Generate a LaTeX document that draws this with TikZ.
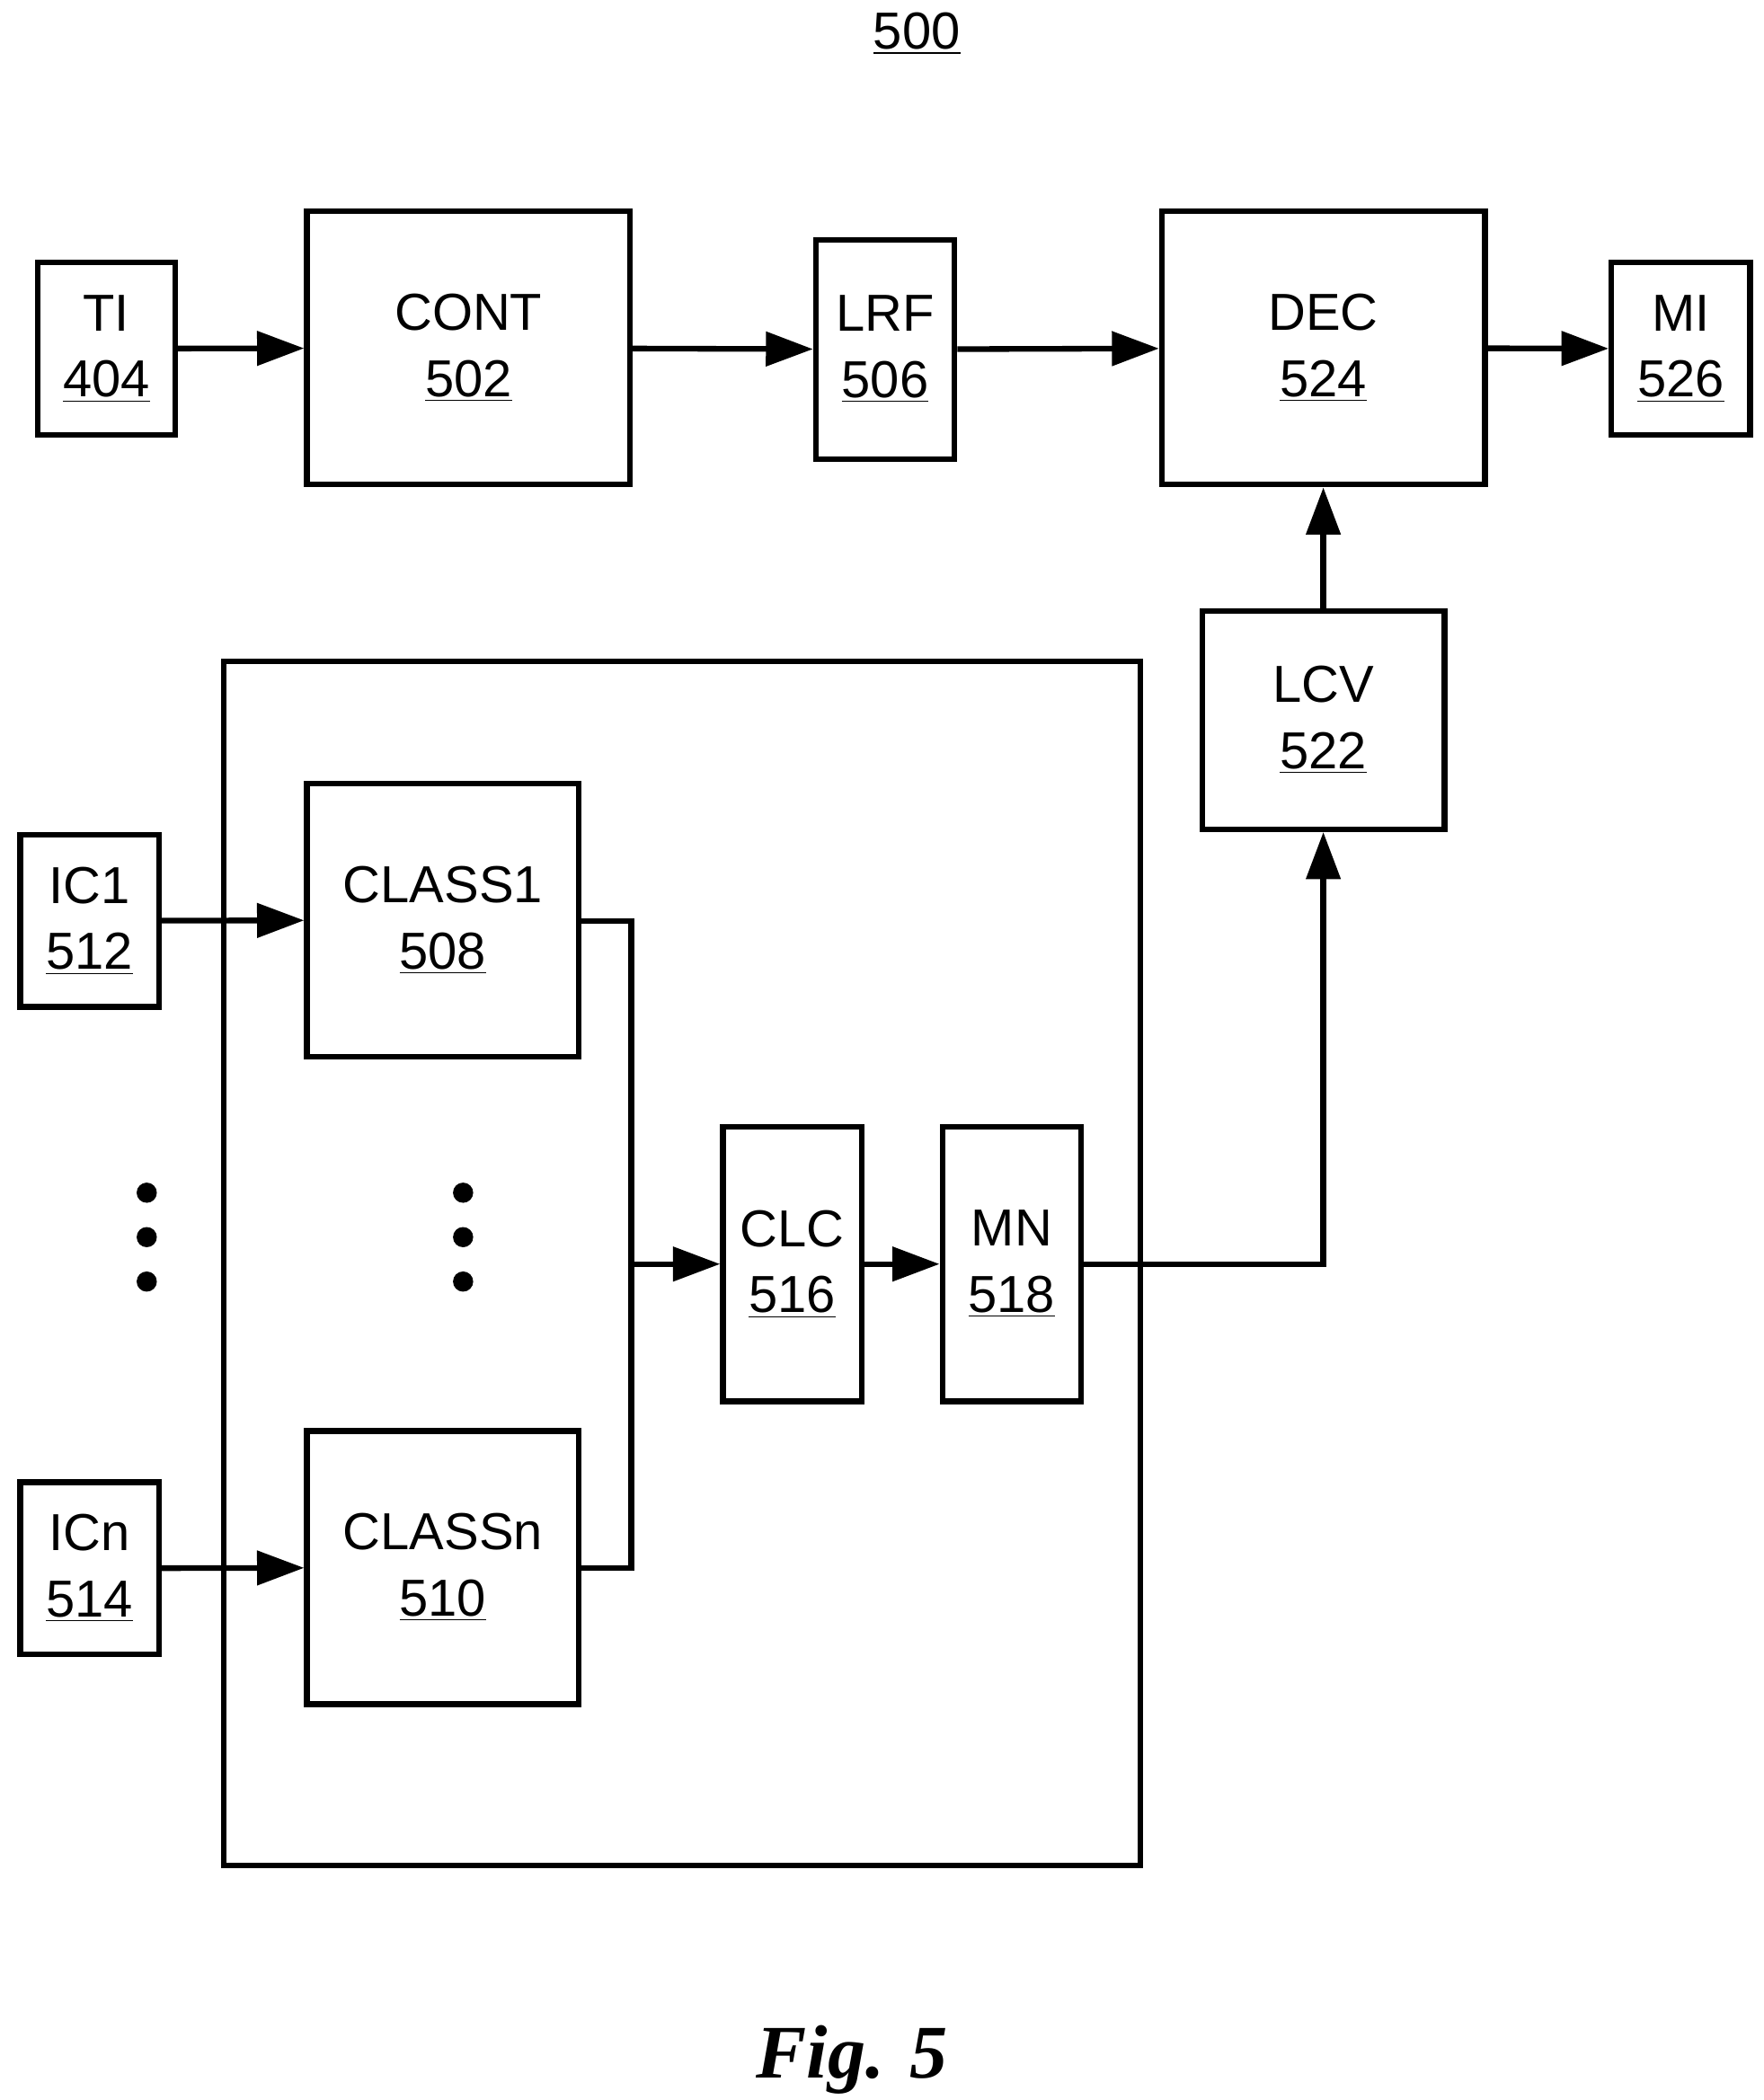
\documentclass[tikz,border=0pt]{standalone}
\usepackage{fontspec}
\setmainfont{Liberation Sans}
\newfontfamily\figfont{Liberation Serif}
\usetikzlibrary{arrows.meta}
\begin{document}
\begin{tikzpicture}[x=0.02cm,y=-0.02cm,
  box/.style={draw,line width=2.4pt,align=center,inner sep=0pt,font=\fontsize{22}{28}\selectfont},
  arr/.style={line width=2.4pt,-{Triangle[length=0.7cm,width=0.5cm]}},
  ln/.style={line width=2.4pt},
  dot/.style={circle,fill,inner sep=0pt,minimum size=0.3cm}]
\useasboundingbox (0,0) rectangle (1310,1560);
\node[font=\fontsize{22}{26}\selectfont] (t) at (681,25) {\underline{500}};
\node[box,minimum width=2.04cm,minimum height=2.56cm] (ti) at (79,259) {TI\\\underline{404}};
\node[box,minimum width=4.8cm,minimum height=4.06cm] (cont) at (348,258.5) {CONT\\\underline{502}};
\node[box,minimum width=2.06cm,minimum height=3.26cm] (lrf) at (657.5,259.5) {LRF\\\underline{506}};
\node[box,minimum width=4.8cm,minimum height=4.06cm] (dec) at (983,258.5) {DEC\\\underline{524}};
\node[box,minimum width=2.06cm,minimum height=2.56cm] (mi) at (1248.5,259) {MI\\\underline{526}};
\node[box,minimum width=3.6cm,minimum height=3.24cm] (lcv) at (983,535) {LCV\\\underline{522}};
\node[box,minimum width=13.62cm,minimum height=17.9cm] (big) at (506.5,938.5) {};
\node[box,minimum width=2.06cm,minimum height=2.56cm] (ic1) at (66.5,684) {IC1\\\underline{512}};
\node[box,minimum width=4.04cm,minimum height=4.06cm] (c1) at (329,683.5) {CLASS1\\\underline{508}};
\node[box,minimum width=2.06cm,minimum height=2.56cm] (icn) at (66.5,1165) {ICn\\\underline{514}};
\node[box,minimum width=4.04cm,minimum height=4.06cm] (cn) at (329,1164.5) {CLASSn\\\underline{510}};
\node[box,minimum width=2.06cm,minimum height=4.08cm] (clc) at (588.5,939) {CLC\\\underline{516}};
\node[box,minimum width=2.06cm,minimum height=4.08cm] (mn) at (751.5,939) {MN\\\underline{518}};
\foreach \y [count=\i] in {886,919,952}{
  \node[dot] (dl\i) at (109,\y) {};
  \node[dot] (dr\i) at (344,\y) {};
}
\draw[arr] (ti) -- (cont);
\draw[arr] (cont) -- (lrf);
\draw[arr] (lrf) -- (dec);
\draw[arr] (dec) -- (mi);
\draw[arr] (lcv) -- (dec);
\draw[arr] (ic1) -- (c1);
\draw[arr] (icn) -- (cn);
\coordinate (bt) at (469,684);
\coordinate (bb) at (469,1165);
\coordinate (bm) at (469,939);
\coordinate (corner) at (983,939);
\draw[ln] (c1.east |- bt) -- (bt) -- (bb) -- (cn.east |- bb);
\draw[arr] (bm) -- (clc);
\draw[arr] (clc) -- (mn);
\draw[arr] (mn) -- (corner) -- (lcv);
\node[font=\figfont\bfseries\itshape\fontsize{32}{36}\selectfont] (fig) at (633,1530) {Fig. 5};
\end{tikzpicture}
\end{document}
